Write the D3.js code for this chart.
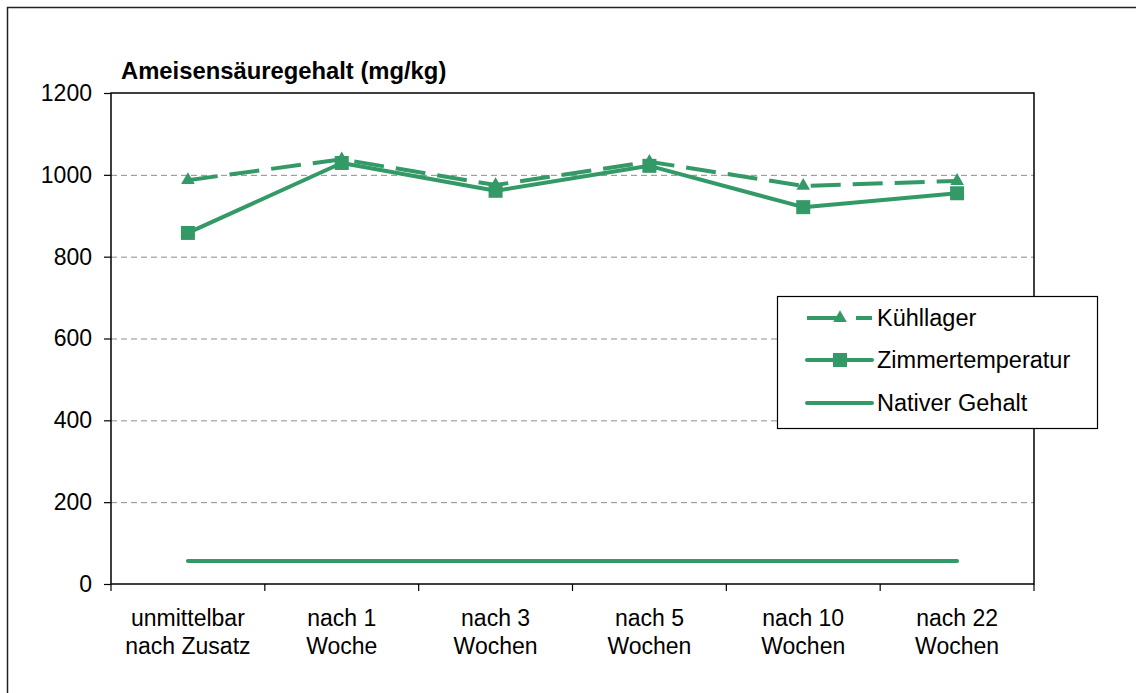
<!DOCTYPE html>
<html><head><meta charset="utf-8">
<script src="https://cdn.jsdelivr.net/npm/d3@7"></script>
<style>body{margin:0;background:#fff}svg{display:block;font-family:"Liberation Sans",Arial,sans-serif}</style>
</head><body><svg id="c" width="1136" height="693"></svg>
<script>
const categories = [["unmittelbar","nach Zusatz"],["nach 1","Woche"],["nach 3","Wochen"],["nach 5","Wochen"],["nach 10","Wochen"],["nach 22","Wochen"]];
const kuehllager = [987, 1038, 975, 1032, 973, 985];
const zimmertemperatur = [858, 1029, 961, 1022, 921, 955];
const nativerGehalt = [56, 56, 56, 56, 56, 56];
const yTicks = [0, 200, 400, 600, 800, 1000, 1200];
const seriesNames = ["Kühllager", "Zimmertemperatur", "Nativer Gehalt"];
const title = "Ameisensäuregehalt (mg/kg)";

const green = "#339966";
const svg = d3.select("#c");
const L = 111, R = 1034, T = 93, B = 584;

svg.append("rect").attr("x",7.5).attr("y",7.5).attr("width",1300).attr("height",900)
  .attr("fill","none").attr("stroke","#222").attr("stroke-width",1.5);

const x = d3.scaleBand().domain(d3.range(categories.length)).range([L, R]);
const y = d3.scaleLinear().domain([0, 1200]).range([B, T]);
const cx = i => x(i) + x.bandwidth()/2;

// gridlines
svg.append("g").selectAll("line").data(yTicks.filter(v => v > 0 && v < 1200)).join("line")
  .attr("x1", L).attr("x2", R).attr("y1", d => y(d)+0.5).attr("y2", d => y(d)+0.5)
  .attr("stroke", "#8c8c8c").attr("stroke-width", 1).attr("stroke-dasharray", "6,4");

// plot border
svg.append("rect").attr("x", L).attr("y", T).attr("width", R-L).attr("height", B-T)
  .attr("fill","none").attr("stroke","#000").attr("stroke-width",1.5);

// y axis
const yAxis = svg.append("g").attr("transform", `translate(${L},0)`)
  .call(d3.axisLeft(y).tickValues(yTicks).tickSize(7).tickPadding(12).tickFormat(d3.format("d")));
yAxis.select(".domain").remove();
yAxis.selectAll("line").attr("stroke","#000").attr("stroke-width",1.2);
yAxis.selectAll("text").attr("font-size", 23).attr("fill","#000").attr("font-family","Liberation Sans, Arial, sans-serif");

// x axis ticks at boundaries
const bounds = d3.range(categories.length + 1).map(i => L + i * x.bandwidth());
svg.append("g").selectAll("line").data(bounds).join("line")
  .attr("x1", d => d).attr("x2", d => d).attr("y1", B).attr("y2", B + 7)
  .attr("stroke", "#000").attr("stroke-width", 1.2);
const xl = svg.append("g").selectAll("text").data(categories).join("text")
  .attr("x", (d,i) => cx(i)).attr("y", 626).attr("text-anchor","middle")
  .attr("font-size", 23).attr("fill","#000");
xl.each(function(d){
  const t = d3.select(this);
  d.forEach((s,j) => t.append("tspan").attr("x", t.attr("x")).attr("dy", j ? 28 : 0).text(s));
});

// title
svg.append("text").attr("x", 121).attr("y", 79).attr("font-size", 23.8).attr("font-weight","bold")
  .attr("fill","#000").text(title);

const line = d3.line().x((d,i) => cx(i)).y(d => y(d));

// Native
svg.append("path").datum(nativerGehalt).attr("d", line).attr("fill","none")
  .attr("stroke", green).attr("stroke-width", 4).attr("stroke-linecap","round");

// Kühllager
svg.append("path").datum(kuehllager).attr("d", line).attr("fill","none")
  .attr("stroke", green).attr("stroke-width", 4).attr("stroke-dasharray","30,12");
const tri = d3.symbol().type(d3.symbolTriangle).size(80);
svg.append("g").selectAll("path").data(kuehllager).join("path")
  .attr("d", tri).attr("transform", (d,i) => `translate(${cx(i)},${y(d)})`).attr("fill", green);

// Zimmertemperatur
svg.append("path").datum(zimmertemperatur).attr("d", line).attr("fill","none")
  .attr("stroke", green).attr("stroke-width", 4).attr("stroke-linejoin","round");
svg.append("g").selectAll("rect").data(zimmertemperatur).join("rect")
  .attr("x", (d,i) => cx(i)-7).attr("y", d => y(d)-7).attr("width", 14).attr("height", 14).attr("fill", green);

// legend
const lg = svg.append("g");
lg.append("rect").attr("x", 777.5).attr("y", 296.5).attr("width", 320).attr("height", 132)
  .attr("fill","#fff").attr("stroke","#000").attr("stroke-width",1.2);
const rows = [318, 360, 403];
seriesNames.forEach((n, k) => {
  const yy = rows[k];
  const ln = lg.append("line").attr("x1", 807).attr("x2", 872).attr("y1", yy).attr("y2", yy)
    .attr("stroke", green).attr("stroke-width", 4);
  if (k === 0) {
    ln.attr("stroke-dasharray", "35,14");
    lg.append("path").attr("d", tri).attr("transform", `translate(840,${yy})`).attr("fill", green);
  } else {
    ln.attr("stroke-linecap","round");
  }
  if (k === 1) lg.append("rect").attr("x", 833).attr("y", yy-7).attr("width",14).attr("height",14).attr("fill", green);
  lg.append("text").attr("x", 877).attr("y", yy).attr("dy","0.36em").attr("font-size", 23.5).attr("fill","#000").text(n);
});
</script></body></html>
